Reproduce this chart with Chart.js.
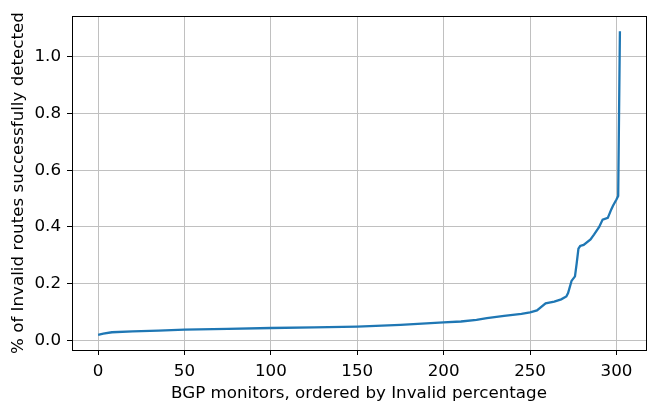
<!DOCTYPE html>
<html>
<head>
<meta charset="utf-8">
<script src="https://cdn.jsdelivr.net/npm/chart.js@4"></script>
<style>
  html, body { margin: 0; padding: 0; background: #fff; }
  #wrap { width: 648px; height: 408px; }
</style>
</head>
<body>
<div id="wrap"><canvas id="chart" width="648" height="408"></canvas></div>
<script>
// monitor index (sorted) and detection share
var monitorIdx = [0, 3, 8, 20, 35, 50, 75, 100, 125, 150, 175, 200, 210, 219, 225, 235, 245, 250, 254, 259, 264, 268, 271, 272, 274, 276, 277, 278, 279, 281, 285, 287, 290, 292, 295, 297, 298, 300, 301, 302];
var detected = [0.020, 0.024, 0.029, 0.032, 0.035, 0.038, 0.041, 0.044, 0.046, 0.049, 0.055, 0.064, 0.067, 0.073, 0.079, 0.087, 0.094, 0.099, 0.106, 0.131, 0.137, 0.145, 0.155, 0.167, 0.210, 0.226, 0.273, 0.324, 0.333, 0.337, 0.356, 0.373, 0.400, 0.426, 0.432, 0.462, 0.475, 0.497, 0.509, 1.09];
var xTicks = [0, 50, 100, 150, 200, 250, 300];
var yTicks = [0.0, 0.2, 0.4, 0.6, 0.8, 1.0];

var points = monitorIdx.map(function (x, i) { return { x: x, y: detected[i] }; });

var font = { family: 'DejaVu Sans', size: 16.7 };

var frameBox = {
    id: 'frameBox',
    afterDraw: function (chart) {
        var a = chart.chartArea, c = chart.ctx;
        c.save();
        c.strokeStyle = '#000';
        c.lineWidth = 1;
        c.strokeRect(Math.round(a.left) + 0.5, Math.round(a.top) + 0.5,
            Math.round(a.right - a.left), Math.round(a.bottom - a.top));
        c.restore();
    }
};

new Chart(document.getElementById('chart'), {
    type: 'line',
    data: {
        datasets: [{
            data: points,
            borderColor: '#1f77b4',
            borderWidth: 2.3,
            pointRadius: 0,
            tension: 0,
            fill: false
        }]
    },
    options: {
        responsive: false,
        animation: false,
        layout: { padding: { top: 16, right: 2, left: 0, bottom: 0 } },
        plugins: { legend: { display: false }, tooltip: { enabled: false } },
        scales: {
            x: {
                type: 'linear',
                min: -15.1,
                max: 317.1,
                afterBuildTicks: function (s) { s.ticks = xTicks.map(function (v) { return { value: v }; }); },
                afterFit: function (s) { s.height = 58; },
                ticks: { color: '#000', font: font, padding: 7, maxRotation: 0, callback: function (v) { return v; } },
                grid: { color: '#c0c0c0', lineWidth: 1, tickColor: '#000', tickLength: 5 },
                border: { color: '#000', width: 1 },
                title: { display: true, text: 'BGP monitors, ordered by Invalid percentage', color: '#000', font: font, padding: { top: 0, bottom: 4 } }
            },
            y: {
                type: 'linear',
                min: -0.0335,
                max: 1.1435,
                afterBuildTicks: function (s) { s.ticks = yTicks.map(function (v) { return { value: v }; }); },
                afterFit: function (s) { s.width = 72; },
                ticks: { color: '#000', font: font, padding: 6, callback: function (v) { return v.toFixed(1); } },
                grid: { color: '#c0c0c0', lineWidth: 1, tickColor: '#000', tickLength: 5 },
                border: { color: '#000', width: 1 },
                title: { display: true, text: '% of Invalid routes successfully detected', color: '#000', font: font, padding: { top: 9, bottom: 0 } }
            }
        }
    },
    plugins: [frameBox]
});
</script>
</body>
</html>
